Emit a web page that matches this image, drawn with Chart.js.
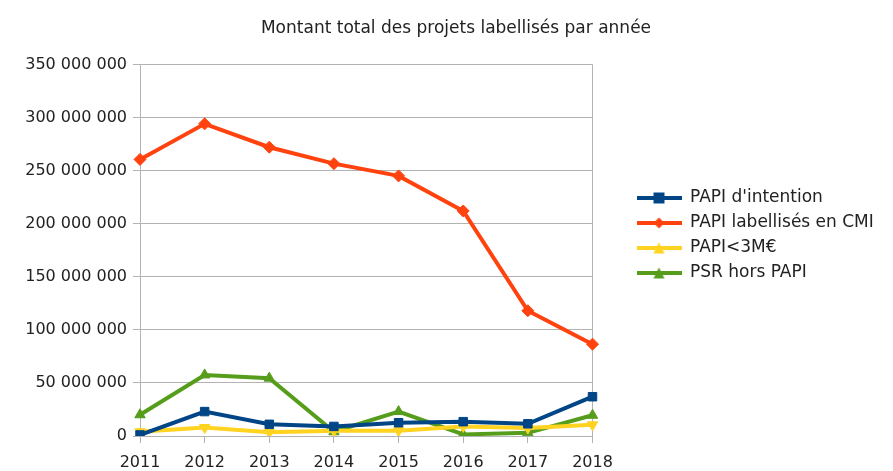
<!DOCTYPE html>
<html>
<head>
<meta charset="utf-8">
<script src="https://cdn.jsdelivr.net/npm/chart.js@4"></script>
<style>
  body { margin: 0; background: #fff; }
  #wrap { width: 893px; height: 471px; }
</style>
</head>
<body>
<div id="wrap"><canvas id="montantChart"></canvas></div>
<script>
// Données
const annees = ['2011', '2012', '2013', '2014', '2015', '2016', '2017', '2018'];
const papiIntention = [1e6, 23e6, 11e6, 9e6, 12.5e6, 13.5e6, 11.5e6, 37e6];
const papiCMI = [260.5e6, 294e6, 272e6, 256.5e6, 245e6, 212e6, 118e6, 86.5e6];
const papiMoins3M = [4e6, 8e6, 3.5e6, 5e6, 5e6, 9e6, 7.5e6, 10.5e6];
const psrHorsPapi = [20e6, 57.5e6, 54.5e6, 4e6, 23e6, 1.5e6, 3e6, 19.5e6];
const yTicks = [0, 50e6, 100e6, 150e6, 200e6, 250e6, 300e6, 350e6];

const police = 'DejaVu Sans';
const gris = '#b3b3b3';

// Petite icône de légende : trait + marqueur
function iconeLegende(couleur, forme) {
    const c = document.createElement('canvas');
    c.width = 45;
    c.height = 14;
    const ctx = c.getContext('2d');
    ctx.strokeStyle = couleur;
    ctx.fillStyle = couleur;
    ctx.lineWidth = 4;
    ctx.beginPath();
    ctx.moveTo(0, 7);
    ctx.lineTo(45, 7);
    ctx.stroke();
    const x = 22.5, y = 7, r = 5.5;
    ctx.beginPath();
    if (forme === 'carre') {
        ctx.rect(x - r, y - r, 2 * r, 2 * r);
    } else if (forme === 'losange') {
        ctx.moveTo(x, y - r); ctx.lineTo(x + r, y); ctx.lineTo(x, y + r); ctx.lineTo(x - r, y);
    } else if (forme === 'bas') {
        ctx.moveTo(x - r, y - r); ctx.lineTo(x + r, y - r); ctx.lineTo(x, y + r);
    } else {
        ctx.moveTo(x - r, y + r); ctx.lineTo(x + r, y + r); ctx.lineTo(x, y - r);
    }
    ctx.closePath();
    ctx.fill();
    return c;
}

const series = [
    { label: "PAPI d'intention", data: papiIntention, color: '#004586', style: 'rect', rotation: 0, icone: 'carre' },
    { label: 'PAPI labellisés en CMI', data: papiCMI, color: '#ff420e', style: 'rectRot', rotation: 0, icone: 'losange' },
    { label: 'PAPI<3M€', data: papiMoins3M, color: '#ffd320', style: 'triangle', rotation: 180, icone: 'bas' },
    { label: 'PSR hors PAPI', data: psrHorsPapi, color: '#579d1c', style: 'triangle', rotation: 0, icone: 'haut' }
];
const icones = series.map(s => iconeLegende(s.color, s.icone));

function espaces(v) {
    return String(v).replace(/\B(?=(\d{3})+(?!\d))/g, ' ');
}

// recale la légende à droite du graphique et recentre le titre
const recalage = {
    id: 'recalage',
    afterLayout(chart) {
        const l = chart.legend;
        l.left = chart.chartArea.right + 36;
        l.right = chart.width;
        l.width = l.right - l.left;
        const t = chart.titleBlock;
        t.left = 19;
        t.right = chart.width;
    }
};

new Chart(document.getElementById('montantChart'), {
    type: 'line',
    data: {
        labels: annees,
        datasets: series.map(s => ({
            label: s.label,
            data: s.data,
            borderColor: s.color,
            backgroundColor: s.color,
            borderWidth: 4,
            pointStyle: s.style,
            pointRotation: s.rotation,
            pointRadius: 6,
            pointBorderWidth: 1,
            tension: 0,
            fill: false
        }))
    },
    plugins: [recalage],
    options: {
        responsive: true,
        maintainAspectRatio: false,
        animation: false,
        layout: { autoPadding: false, padding: { left: 0, right: 103, top: 0, bottom: 0 } },
        scales: {
            x: {
                offset: false,
                afterFit: axis => { axis.height = 35; },
                grid: {
                    color: ctx => (ctx.index === 0 || ctx.index === annees.length - 1) ? gris : 'rgba(0,0,0,0)',
                    tickColor: gris,
                    tickLength: 7
                },
                border: { color: gris },
                ticks: { color: '#222', padding: 10, font: { family: police, size: 16 } }
            },
            y: {
                min: 0,
                max: 350e6,
                afterBuildTicks: axis => { axis.ticks = yTicks.map(v => ({ value: v })); },
                afterFit: axis => { axis.width = 140; },
                grid: { color: gris, tickColor: gris, tickLength: 7 },
                border: { color: gris },
                ticks: {
                    color: '#222',
                    padding: 6,
                    font: { family: police, size: 16 },
                    callback: v => espaces(v)
                }
            }
        },
        plugins: {
            title: {
                display: true,
                text: 'Montant total des projets labellisés par année',
                color: '#222',
                font: { family: police, size: 17, weight: 'normal' },
                padding: { top: 18, bottom: 26 }
            },
            legend: {
                position: 'right',
                labels: {
                    color: '#222',
                    font: { family: police, size: 17 },
                    usePointStyle: true,
                    pointStyleWidth: 45,
                    padding: 8,
                    generateLabels: chart => Chart.defaults.plugins.legend.labels.generateLabels(chart)
                        .map((l, i) => Object.assign(l, { pointStyle: icones[i] }))
                }
            },
            tooltip: { enabled: false }
        }
    }
});
</script>
</body>
</html>
